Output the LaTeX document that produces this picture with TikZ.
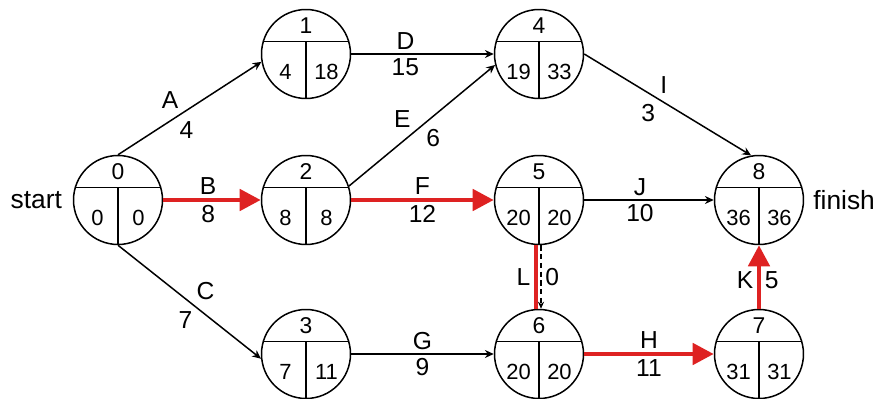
\documentclass[tikz,border=0pt]{standalone}
\usepackage{fontspec}
\setmainfont{Liberation Sans}
\usepackage{xcolor}
\usetikzlibrary{arrows.meta,positioning}
\definecolor{critred}{RGB}{222,34,34}

\begin{document}
\begin{tikzpicture}[
    x=0.02cm, y=-0.02cm,
    ev/.style={draw, circle, line width=0.85pt, minimum size=1.78cm, inner sep=0pt},
    evnum/.style={font=\fontsize{13}{15}\selectfont, inner sep=0pt},
    evval/.style={font=\fontsize{12.5}{14}\selectfont, inner sep=0pt},
    lbl/.style={font=\fontsize{14}{16}\selectfont, inner sep=2pt, text=black},
    side/.style={font=\fontsize{15}{17}\selectfont, inner sep=0pt},
    arr/.style={-{Stealth[length=5pt,width=4.5pt]}, line width=0.85pt},
    crit/.style={-{Triangle[length=12pt,width=12pt]}, line width=2.6pt, critred},
    dummy/.style={-{Stealth[length=4pt,width=3.5pt]}, line width=0.85pt, dash pattern=on 3pt off 2pt}
]
\useasboundingbox (0,0) rectangle (877,399);

% events: name/x/y/number/earliest/latest
\foreach \nm/\x/\y/\k/\es/\lf in {n0/118/200/0/0/0, n1/306/54/1/4/18, n2/306/200/2/8/8,
    n3/306/354/3/7/11, n4/539/54/4/19/33, n5/539/200/5/20/20, n6/539/354/6/20/20,
    n7/759/354/7/31/31, n8/759/200/8/36/36} {
  \node[ev] (\nm) at (\x,\y) {};
  \draw[line width=0.85pt] (\nm.164) -- (\nm.16);
  \draw[line width=0.85pt] (\nm.16 -| \nm.center) -- (\nm.south);
  \node[evnum] (\nm-k) at ([yshift=0.56cm]\nm.center) {\k};
  \node[evval] (\nm-es) at ([xshift=-0.41cm,yshift=-0.35cm]\nm.center) {\es};
  \node[evval] (\nm-lf) at ([xshift=0.41cm,yshift=-0.35cm]\nm.center) {\lf};
}

\node[side, left=6pt of n0] (start) {start};
\node[side, right=5pt of n8] (finish) {finish};

% activities
\draw[arr] (n0.north) -- node[lbl, pos=.45, above left] (lA) {A} node[lbl, pos=.4, below right] (dA) {4} (n1.190);
\draw[crit] (n0) -- node[lbl, pos=.46, above] (lB) {B} node[lbl, pos=.46, below] (dB) {8} (n2);
\draw[arr] (n0.south) -- node[lbl, pos=.52, above right] (lC) {C} node[lbl, pos=.55, below left] (dC) {7} (n3.186);
\draw[arr] (n1) -- node[lbl, pos=.38, above] (lD) {D} node[lbl, pos=.38, below] (dD) {15} (n4);
\draw[arr] (n2.18) -- node[lbl, pos=.45, above left] (lE) {E} node[lbl, pos=.5, below right] (dE) {6} (n4.194);
\draw[crit] (n2) -- node[lbl, above] (lF) {F} node[lbl, below] (dF) {12} (n5);
\draw[arr] (n3) -- node[lbl, above] (lG) {G} node[lbl, below] (dG) {9} (n6);
\draw[crit] (n6) -- node[lbl, above] (lH) {H} node[lbl, below] (dH) {11} (n7);
\draw[arr] (n4.east) -- node[lbl, pos=.43, above right] (lI) {I} node[lbl, pos=.45, below left] (dI) {3} (n8.100);
\draw[arr] (n5) -- node[lbl, pos=.43, above] (lJ) {J} node[lbl, pos=.43, below] (dJ) {10} (n8);
\draw[crit] (n7) -- node[lbl, pos=.45, left] (lK) {K} node[lbl, pos=.45, right] (dK) {5} (n8);
% dummy on the critical path
\draw[crit, -] ([xshift=-0.06cm]n5.south) -- node[lbl, left] (lL) {L} ([xshift=-0.06cm]n6.north);
\draw[dummy] ([xshift=0.04cm]n5.south) -- node[lbl, right] (dL) {0} ([xshift=0.04cm]n6.north);
\end{tikzpicture}
\end{document}
